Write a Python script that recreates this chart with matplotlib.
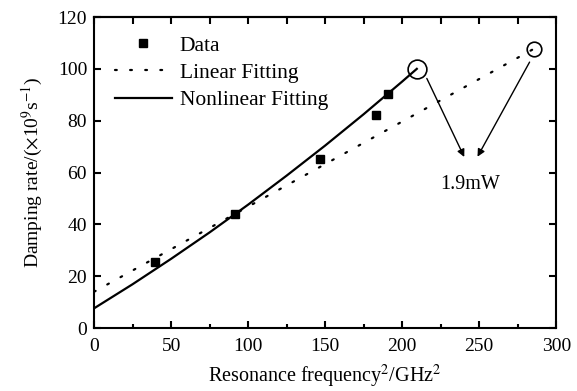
import matplotlib
matplotlib.use("Agg")
import matplotlib.pyplot as plt
import numpy as np

plt.rcParams['font.family'] = ['Liberation Serif', 'DejaVu Serif']
plt.rcParams['mathtext.fontset'] = 'stix'

# measured points
freq_sq = [39.6, 91.6, 146.8, 183.0, 190.5]
damping = [25.6, 44.0, 65.2, 82.2, 90.2]

# linear fit, read at its ends
lin_x = [0, 285.7]
lin_y = [14.0, 107.8]

# nonlinear fit
nl_x = [0, 25, 50, 75, 100, 125, 150, 175, 200, 209.5]
nl_y = [7.6, 16.9, 26.7, 36.9, 47.6, 58.8, 70.4, 82.5, 95.1, 100.0]

# circled end points (1.9 mW)
circ_x = [209.5, 285.7]
circ_y = [100.0, 107.8]
circ_size = [13.5, 10.5]

note = "1.9mW"

fig = plt.figure(figsize=(5.77, 3.91), dpi=100)
ax = fig.add_axes([0.163, 0.161, 0.801, 0.7955])

ax.plot(freq_sq, damping, 's', color='black', markersize=5.5, label='Data', zorder=4)
ax.plot(lin_x, lin_y, color='black', lw=1.6, linestyle=(0, (0.8, 6.0)),
        dash_capstyle='round', label='Linear Fitting')
ax.plot(nl_x, nl_y, color='black', lw=1.6, label='Nonlinear Fitting')

for cx, cy, s in zip(circ_x, circ_y, circ_size):
    ax.plot(cx, cy, 'o', mfc='none', mec='black', mew=1.2, markersize=s)

# arrows to the label
ax.annotate('', xy=(240.3, 66.0), xytext=(216.0, 96.3),
            arrowprops=dict(arrowstyle='-|>', color='black', lw=1.0,
                            mutation_scale=11, shrinkA=0, shrinkB=0))
ax.annotate('', xy=(248.9, 66.1), xytext=(282.7, 102.6),
            arrowprops=dict(arrowstyle='-|>', color='black', lw=1.0,
                            mutation_scale=11, shrinkA=0, shrinkB=0))
ax.text(244, 55.2, note, ha='center', va='center', fontsize=14.5)

ax.set_xlim(0, 300)
ax.set_ylim(0, 120)
ax.set_xticks(np.arange(0, 301, 50))
ax.set_xticks(np.arange(25, 300, 50), minor=True)
ax.set_yticks(np.arange(0, 121, 20))

ax.tick_params(which='major', direction='in', length=5, width=1.5,
               labelsize=14, right=True, pad=5)
ax.tick_params(which='minor', direction='in', length=3, width=1.5)
ax.tick_params(axis='x', pad=7)

top = ax.secondary_xaxis('top')
top.set_xticks(np.arange(0, 301, 25))
top.tick_params(direction='in', length=5, width=1.5, labeltop=False)
top.spines['top'].set_linewidth(1.5)

for sp in ax.spines.values():
    sp.set_linewidth(1.5)

ax.set_xlabel('Resonance frequency$^2$/GHz$^2$', fontsize=14.5, labelpad=6)
ax.set_ylabel(r'Damping rate/($\times$10$^9$s$^{-1}$)', fontsize=14, labelpad=9)

ax.legend(loc='upper left', frameon=False, fontsize=15.5,
          bbox_to_anchor=(0.045, 0.94), borderpad=0, borderaxespad=0,
          handlelength=2.65, handletextpad=0.37, labelspacing=0.33)

fig.savefig('out.png', dpi=100)
